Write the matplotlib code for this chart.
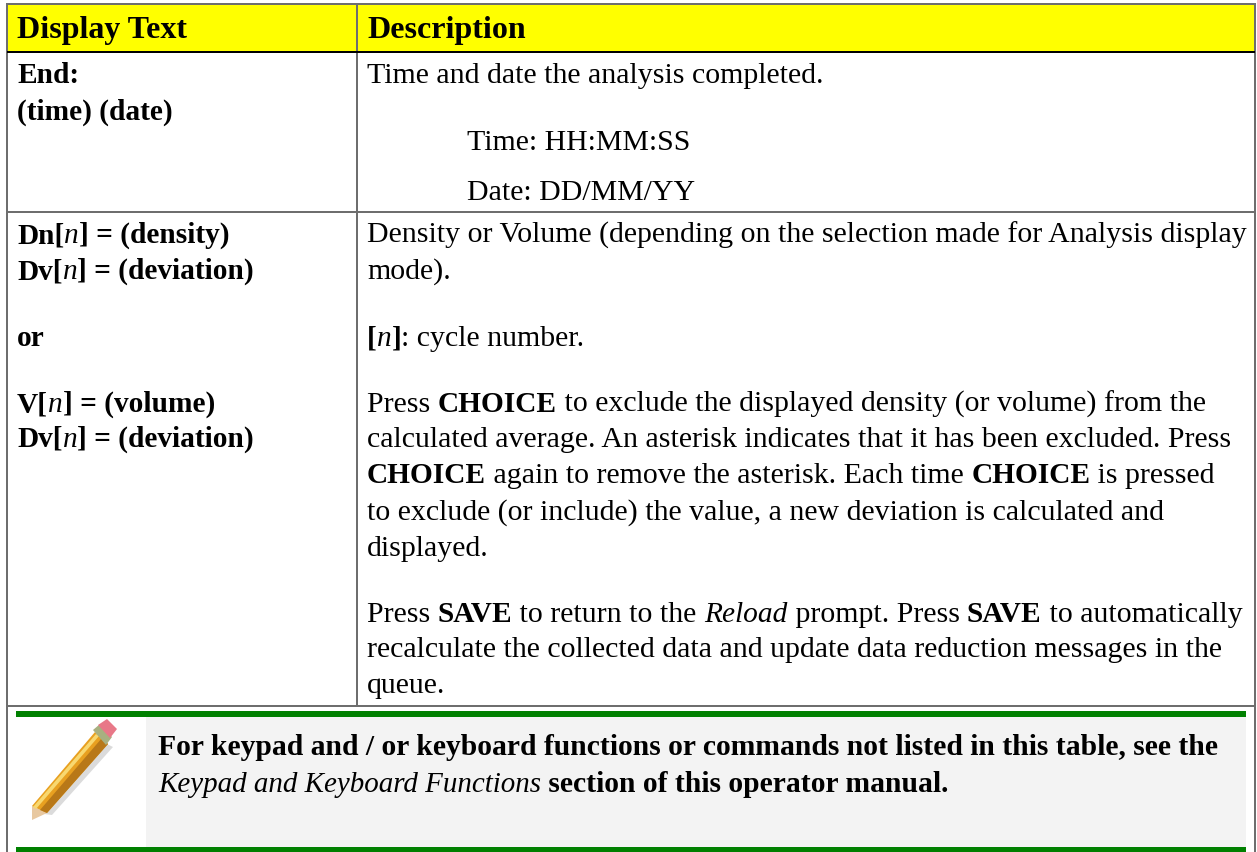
import matplotlib
matplotlib.use('Agg')
import matplotlib.pyplot as plt
from matplotlib.patches import Polygon, Rectangle

W, H = 1257, 853
SERIF = ['Liberation Serif', 'DejaVu Serif']
BODY_SIZES = {'r': 21.55, 'b': 21.2, 'i': 21.2}
NOTE_SIZES = {'b': 21.3, 'i': 20.9}
HEAD_FS = 23.0

# header
headers = ['Display Text', 'Description']

# left column: (baseline y, runs), run = (text, style)
left_rows = [
    (83, [('End:', 'b')]),
    (120, [('(time) (date)', 'b')]),
    (243, [('Dn[', 'b'), ('n', 'i'), ('] = (density)', 'b')]),
    (279, [('Dv[', 'b'), ('n', 'i'), ('] = (deviation)', 'b')]),
    (346, [('or', 'b')]),
    (412, [('V[', 'b'), ('n', 'i'), ('] = (volume)', 'b')]),
    (447, [('Dv[', 'b'), ('n', 'i'), ('] = (deviation)', 'b')]),
]

# right column
right_rows = [
    (83, 367, [('Time and date the analysis completed.', 'r')]),
    (150, 467, [('Time: HH:MM:SS', 'r')]),
    (200, 467, [('Date: DD/MM/YY', 'r')]),
    (243, 367, [('Density or Volume (depending on the selection made for Analysis display', 'r')]),
    (279, 367, [('mode).', 'r')]),
    (346, 367, [('[', 'b'), ('n', 'i'), (']', 'b'), (': cycle number.', 'r')]),
    (412, 367, [('Press ', 'r'), ('CHOICE', 'b'), (' to exclude the displayed density (or volume) from the', 'r')]),
    (447, 367, [('calculated average. An asterisk indicates that it has been excluded. Press', 'r')]),
    (483, 367, [('CHOICE', 'b'), (' again to remove the asterisk. Each time ', 'r'), ('CHOICE', 'b'), (' is pressed', 'r')]),
    (520, 367, [('to exclude (or include) the value, a new deviation is calculated and', 'r')]),
    (556, 367, [('displayed.', 'r')]),
    (622, 367, [('Press ', 'r'), ('SAVE', 'b'), (' to return to the ', 'r'), ('Reload', 'i'), (' prompt. Press ', 'r'), ('SAVE', 'b'), (' to automatically', 'r')]),
    (657, 367, [('recalculate the collected data and update data reduction messages in the', 'r')]),
    (693, 367, [('queue.', 'r')]),
]

# note
note_rows = [
    (755, [('For keypad and / or keyboard functions or commands not listed in this table, see the', 'b')]),
    (792, [('Keypad and Keyboard Functions', 'i'), (' section of this operator manual.', 'b')]),
]

STYLES = {'r': dict(), 'b': dict(fontweight='bold'), 'i': dict(fontstyle='italic')}

fig = plt.figure(figsize=(W / 100, H / 100), dpi=100)
ax = fig.add_axes([0, 0, 1, 1])
ax.set_xlim(0, W)
ax.set_ylim(H, 0)
ax.axis('off')
renderer = fig.canvas.get_renderer()


def run_width(s, style, size):
    # padded with x so that leading and trailing spaces count
    t1 = ax.text(0, 0, 'x' + s + 'x', family=SERIF, fontsize=size, **STYLES[style])
    t2 = ax.text(0, 0, 'xx', family=SERIF, fontsize=size, **STYLES[style])
    w = t1.get_window_extent(renderer).width - t2.get_window_extent(renderer).width
    t1.remove()
    t2.remove()
    return w


def draw_runs(x, y, runs, sizes=BODY_SIZES):
    for s, style in runs:
        ax.text(x, y, s, family=SERIF, fontsize=sizes[style], va='baseline', ha='left',
                color='black', **STYLES[style])
        x += run_width(s, style, sizes[style])


GRAY = '#6e6e6e'
GREEN = '#008000'
LW = 1.44

# backgrounds
ax.add_patch(Rectangle((7, 5), 1248, 48, fc='#ffff00', ec='none'))
ax.add_patch(Rectangle((146, 718), 1100, 130, fc='#f3f3f3', ec='none'))
ax.add_patch(Rectangle((16, 712), 1230, 6, fc=GREEN, ec='none'))
ax.add_patch(Rectangle((16, 848), 1230, 5, fc=GREEN, ec='none'))

# grid
ax.plot([6, 1256], [5, 5], color=GRAY, lw=LW, solid_capstyle='butt')
ax.plot([7, 7], [4, 853], color=GRAY, lw=LW, solid_capstyle='butt')
ax.plot([1255, 1255], [4, 853], color=GRAY, lw=LW, solid_capstyle='butt')
ax.plot([357, 357], [4, 707], color=GRAY, lw=LW, solid_capstyle='butt')
ax.plot([7, 1255], [213, 213], color=GRAY, lw=LW, solid_capstyle='butt')
ax.plot([7, 1255], [706.5, 706.5], color=GRAY, lw=LW, solid_capstyle='butt')
ax.plot([7, 1255], [53, 53], color='black', lw=LW, solid_capstyle='butt')

# pencil
ax.add_patch(Polygon([(36, 814), (52, 816), (113, 748), (101, 742)], fc='#999999', ec='none', alpha=0.35))
ax.add_patch(Polygon([(32, 807), (47, 814), (32, 821)], fc='#e8c8a0', ec='none'))
ax.add_patch(Polygon([(32, 807), (95, 733), (108, 745), (47, 814)], fc='#e8a020', ec='none'))
ax.add_patch(Polygon([(40, 811), (102, 739), (108, 745), (47, 814)], fc='#b87818', ec='none'))
ax.add_patch(Polygon([(33, 808), (96, 735), (99, 737), (36, 810)], fc='#f8d870', ec='none'))
ax.add_patch(Polygon([(93, 731), (100, 725), (112, 738), (106, 746)], fc='#a8b080', ec='none'))
ax.add_patch(Polygon([(98, 726), (107, 720), (117, 730), (110, 739)], fc='#e87888', ec='none'))

# text
ax.text(17, 38, headers[0], family=SERIF, fontsize=HEAD_FS, fontweight='bold', va='baseline')
ax.text(367, 38, headers[1], family=SERIF, fontsize=HEAD_FS, fontweight='bold', va='baseline')
for y, runs in left_rows:
    draw_runs(17, y, runs)
for y, x, runs in right_rows:
    draw_runs(x, y, runs)
for y, runs in note_rows:
    draw_runs(158, y, runs, NOTE_SIZES)

fig.savefig('out.png', dpi=100)
